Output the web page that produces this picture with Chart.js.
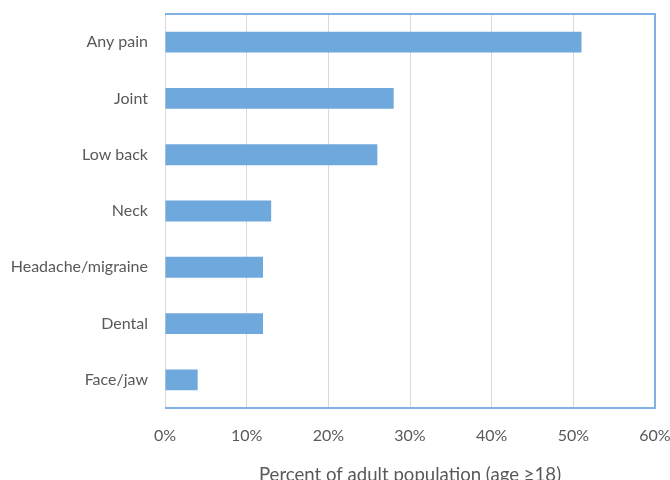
<!DOCTYPE html>
<html>
<head>
<meta charset="utf-8">
<script src="https://cdn.jsdelivr.net/npm/chart.js@4/dist/chart.umd.min.js"></script>
<style>
html,body{margin:0;padding:0;background:#fff;}
#wrap{width:670px;height:480px;position:relative;}
</style>
</head>
<body>
<div id="wrap"><canvas id="c" width="670" height="480"></canvas></div>
<script>
const categories = ["Any pain","Joint","Low back","Neck","Headache/migraine","Dental","Face/jaw"];
const percentValues = [51, 28, 26, 13, 12, 12, 4];
const tickLabels = ["0%","10%","20%","30%","40%","50%","60%"];
const axisTitle = "Percent of adult population (age \u226518)";

const FONT = "Lato, 'Open Sans', sans-serif";
const TEXT = "#595959";
const BLUE = "#6fa8dc";
const BORDER = "#7fb2e2";

const frame = {
  id: 'frame',
  afterDatasetsDraw(chart) {
    const a = chart.chartArea, ctx = chart.ctx;
    ctx.save();
    ctx.strokeStyle = BORDER;
    ctx.lineWidth = 2;
    ctx.beginPath();
    ctx.moveTo(a.left, a.top);
    ctx.lineTo(a.right, a.top);
    ctx.lineTo(a.right, a.bottom);
    ctx.lineTo(a.left, a.bottom);
    ctx.stroke();
    ctx.restore();
  }
};

new Chart(document.getElementById('c'), {
  type: 'bar',
  data: {
    labels: categories,
    datasets: [{
      data: percentValues,
      backgroundColor: BLUE,
      borderWidth: 0,
      barPercentage: 0.37,
      categoryPercentage: 1.0
    }]
  },
  options: {
    indexAxis: 'y',
    responsive: false,
    animation: false,
    layout: { padding: { left: 0, right: 15, top: 14, bottom: 0 } },
    plugins: { legend: { display: false }, tooltip: { enabled: false } },
    scales: {
      x: {
        min: 0, max: 60,
        ticks: {
          stepSize: 10,
          color: TEXT,
          font: { family: FONT, size: 16 },
          padding: 18,
          maxRotation: 0,
          callback: (v, i) => tickLabels[i]
        },
        grid: { color: "#d9d9d9", lineWidth: 1, drawTicks: false },
        border: { display: false },
        title: {
          display: true,
          text: axisTitle,
          color: TEXT,
          font: { family: FONT, size: 18.6 },
          padding: { top: 0, bottom: -6 }
        },
        afterFit(s) { s.height = 72; s.paddingLeft = 0; s.paddingRight = 0; }
      },
      y: {
        ticks: {
          color: TEXT,
          font: { family: FONT, size: 16 },
          padding: 17,
          autoSkip: false
        },
        grid: { display: false, drawTicks: false },
        border: { display: true, color: "#d9d9d9", width: 1 },
        afterFit(s) { s.width = 165; s.paddingTop = 0; s.paddingBottom = 0; }
      }
    }
  },
  plugins: [frame]
});
</script>
</body>
</html>
